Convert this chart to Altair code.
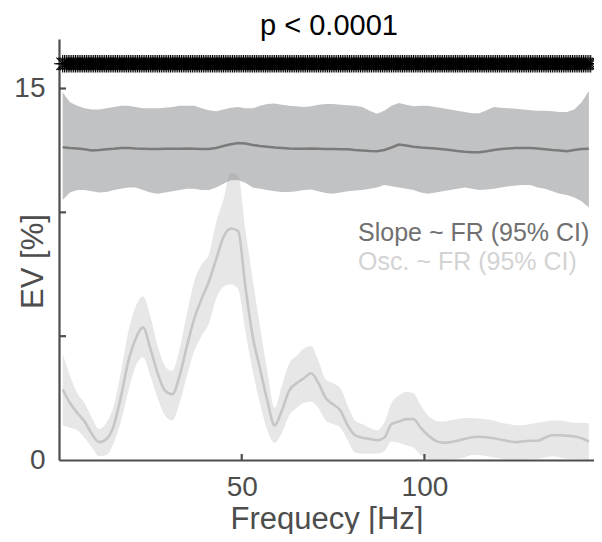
import altair as alt
import pandas as pd

# ---------------- data ----------------
freq = [1, 3, 5, 7, 9, 11, 13, 15, 17, 19, 21, 23, 25, 27, 29, 31, 33, 35, 37, 39,
        41, 43, 45, 47, 49, 51, 53, 55, 57, 59, 61, 63, 65, 67, 69, 71, 73, 75, 77, 79,
        81, 83, 85, 87, 89, 91, 93, 95, 97, 99, 101, 103, 105, 107, 109, 111, 113, 115, 117, 119,
        121, 123, 125, 127, 129, 131, 133, 135, 137, 139, 141, 143, 145]

slope_mean = [12.63, 12.60, 12.58, 12.55, 12.50, 12.52, 12.55, 12.57, 12.60, 12.60,
              12.58, 12.57, 12.56, 12.56, 12.57, 12.57, 12.57, 12.58, 12.57, 12.56,
              12.56, 12.60, 12.68, 12.75, 12.80, 12.78, 12.72, 12.68, 12.65, 12.62,
              12.60, 12.58, 12.57, 12.57, 12.58, 12.57, 12.56, 12.56, 12.55, 12.55,
              12.52, 12.50, 12.48, 12.47, 12.52, 12.62, 12.74, 12.70, 12.65, 12.62,
              12.60, 12.58, 12.55, 12.52, 12.48, 12.45, 12.43, 12.43, 12.47, 12.52,
              12.56, 12.58, 12.60, 12.60, 12.60, 12.58, 12.55, 12.52, 12.50, 12.47,
              12.52, 12.56, 12.57]
slope_lo = [10.50, 10.80, 10.90, 10.90, 10.85, 10.80, 10.82, 10.90, 10.95, 11.00,
            11.00, 10.90, 10.80, 10.75, 10.80, 10.85, 10.90, 10.95, 10.95, 10.90,
            10.90, 11.00, 11.15, 11.30, 11.30, 11.20, 11.00, 10.95, 10.90, 10.85,
            10.82, 10.82, 10.85, 10.90, 10.92, 10.85, 10.78, 10.75, 10.80, 10.85,
            10.88, 10.90, 10.95, 11.00, 11.10, 11.05, 11.00, 10.95, 10.90, 10.80,
            10.75, 10.80, 10.85, 10.90, 10.95, 11.00, 10.95, 10.90, 10.92, 10.95,
            11.00, 11.05, 11.08, 11.10, 11.10, 11.00, 10.95, 10.85, 10.75, 10.70,
            10.60, 10.45, 10.20]
slope_hi = [14.85, 14.45, 14.30, 14.20, 14.15, 14.15, 14.20, 14.25, 14.30, 14.30,
            14.25, 14.20, 14.20, 14.20, 14.22, 14.25, 14.30, 14.30, 14.30, 14.20,
            14.12, 14.08, 14.15, 14.22, 14.25, 14.20, 14.20, 14.30, 14.38, 14.40,
            14.35, 14.30, 14.28, 14.25, 14.28, 14.35, 14.38, 14.38, 14.35, 14.32,
            14.30, 14.25, 14.10, 13.98, 14.10, 14.30, 14.42, 14.35, 14.28, 14.30,
            14.30, 14.25, 14.20, 14.15, 14.10, 14.05, 14.00, 14.00, 14.12, 14.25,
            14.22, 14.20, 14.18, 14.15, 14.12, 14.10, 14.10, 14.08, 14.05, 14.05,
            14.15, 14.45, 14.90]

osc_mean = [2.85, 2.30, 1.90, 1.55, 1.05, 0.72, 0.85, 1.40, 2.60, 4.00,
            4.90, 5.35, 4.50, 3.50, 2.80, 2.65, 3.40, 4.60, 5.70, 6.50,
            7.20, 8.10, 9.00, 9.35, 9.25, 7.00, 5.00, 3.70, 2.40, 1.40,
            2.00, 2.80, 3.10, 3.30, 3.50, 3.10, 2.50, 2.25, 2.00, 1.40,
            1.00, 0.90, 0.85, 0.80, 0.90, 1.45, 1.55, 1.65, 1.65, 1.30,
            1.00, 0.78, 0.70, 0.72, 0.78, 0.85, 0.92, 0.94, 0.92, 0.88,
            0.82, 0.76, 0.72, 0.76, 0.78, 0.78, 0.90, 1.00, 1.00, 0.98,
            0.95, 0.88, 0.74]
osc_lo = [1.40, 1.30, 1.20, 0.90, 0.50, 0.15, 0.20, 0.70, 1.60, 2.80,
          3.80, 4.15, 3.40, 2.50, 1.80, 1.60, 2.30, 3.40, 4.40, 5.00,
          5.50, 6.50, 7.00, 7.10, 6.90, 5.20, 3.60, 2.30, 1.20, 0.70,
          1.10, 1.80, 2.10, 2.30, 2.35, 2.10, 1.60, 1.45, 1.30, 0.80,
          0.30, 0.25, 0.25, 0.25, 0.35, 0.75, 0.70, 0.60, 0.50, 0.20,
          0.05, 0.00, 0.00, 0.00, 0.05, 0.10, 0.20, 0.20, 0.15, 0.10,
          0.05, 0.00, 0.00, 0.00, 0.05, 0.05, 0.10, 0.15, 0.10, 0.05,
          0.05, 0.00, 0.00]
osc_hi = [4.30, 3.40, 2.70, 2.30, 1.70, 1.25, 1.50, 2.20, 3.60, 5.20,
          6.20, 6.60, 5.80, 4.60, 3.80, 3.60, 4.50, 5.90, 7.20, 7.90,
          8.30, 9.60, 10.50, 11.60, 11.50, 9.30, 7.30, 5.40, 3.60, 2.10,
          3.00, 3.90, 4.20, 4.50, 4.60, 4.00, 3.25, 3.10, 2.90, 2.20,
          1.60, 1.45, 1.30, 1.20, 1.50, 2.30, 2.60, 2.75, 2.70, 2.20,
          1.80, 1.60, 1.55, 1.60, 1.65, 1.70, 1.70, 1.68, 1.65, 1.60,
          1.50, 1.45, 1.40, 1.40, 1.45, 1.50, 1.55, 1.60, 1.60, 1.55,
          1.50, 1.50, 1.48]

# every frequency bin is significant (p < 0.0001)
sig_freq = [i / 2 for i in range(2, 292)]
sig_level = 16

y_ticks = [5, 10, 15]
x_ticks = [50, 100]
y_labels = [0, 15]
x_labels = [50, 100]
legend_labels = ["Slope ~ FR (95% CI)", "Osc. ~ FR (95% CI)"]
title_text = ["p < 0.0001"]

# ---------------- chart ----------------
FONT = "Liberation Sans"
AX = "#4d4d4d"
W, H = 535, 421

df = pd.DataFrame({
    "f": freq,
    "slope_mean": slope_mean, "slope_lo": slope_lo, "slope_hi": slope_hi,
    "osc_mean": osc_mean, "osc_lo": osc_lo, "osc_hi": osc_hi,
})
df_sig = pd.DataFrame({"f": sig_freq, "level": [sig_level] * len(sig_freq)})

xs = alt.Scale(domain=[0, 146.4], nice=False, zero=False)
ys = alt.Scale(domain=[0, 17], nice=False, zero=False)

x_axis = alt.Axis(values=x_labels, title="Frequecy [Hz]", grid=False, ticks=False, tickSize=0,
                  labelBaseline="alphabetic", labelPadding=35, labelFontSize=28,
                  titleFontSize=31, titleFontWeight="normal", titleY=68,
                  titleBaseline="alphabetic", domainColor=AX, domainWidth=2.2,
                  labelColor=AX, titleColor=AX, labelFont=FONT, titleFont=FONT)
y_axis = alt.Axis(values=y_labels, title="EV [%]", grid=False, ticks=False, tickSize=0,
                  labelPadding=14, labelFontSize=28, titleFontSize=31,
                  titleFontWeight="normal", titleX=-17, titleY=222,
                  titleBaseline="alphabetic", domainColor=AX, domainWidth=2.2,
                  labelColor=AX, titleColor=AX, labelFont=FONT, titleFont=FONT)


def X(field):
    return alt.X(field, scale=xs, axis=x_axis)


def Y(field):
    return alt.Y(field, scale=ys, axis=y_axis)


base = alt.Chart(df)

slope_band = base.mark_area(color="#c1c2c4", opacity=1).encode(
    x=X("f:Q"), y=Y("slope_lo:Q"), y2="slope_hi:Q",
)
osc_band = base.mark_area(color="#868686", opacity=0.2, interpolate="monotone").encode(
    x=X("f:Q"), y=Y("osc_lo:Q"), y2="osc_hi:Q",
)
slope_line = base.mark_line(color="#7b7b7b", strokeWidth=2.6).encode(
    x=X("f:Q"), y=Y("slope_mean:Q"),
)
osc_line = base.mark_line(color="#c6c6c6", strokeWidth=2.6, interpolate="monotone").encode(
    x=X("f:Q"), y=Y("osc_mean:Q"),
)

ASTERISK = "M-1,0L1,0M0,-1L0,1M-0.72,-0.72L0.72,0.72M-0.72,0.72L0.72,-0.72"
stars = alt.Chart(df_sig).mark_point(shape=ASTERISK, filled=False, color="black",
                                      size=300, strokeWidth=1.1, opacity=1).encode(
    x=X("f:Q"), y=Y("level:Q"),
)

ytick_rules = alt.Chart(pd.DataFrame({"v": y_ticks})).mark_rule(color=AX, strokeWidth=2.2).encode(
    y=Y("v:Q"), x=alt.value(0), x2=alt.value(7),
)
xtick_rules = alt.Chart(pd.DataFrame({"v": x_ticks})).mark_rule(color=AX, strokeWidth=2.2).encode(
    x=X("v:Q"), y=alt.value(H), y2=alt.value(H - 6),
)

leg1 = alt.Chart(pd.DataFrame({"label": [legend_labels[0]]})).mark_text(
    align="left", baseline="alphabetic", fontSize=25, font=FONT, color="#707070"
).encode(x=alt.value(299), y=alt.value(202), text="label:N")
leg2 = alt.Chart(pd.DataFrame({"label": [legend_labels[1]]})).mark_text(
    align="left", baseline="alphabetic", fontSize=25, font=FONT, color="#d3d3d3"
).encode(x=alt.value(299), y=alt.value(231), text="label:N")

title = alt.Chart(pd.DataFrame({"t": title_text})).mark_text(
    align="center", baseline="alphabetic", fontSize=29, font=FONT, color="black"
).encode(x=alt.value(270), y=alt.value(-4), text="t:N")

chart = alt.layer(
    slope_band, osc_band, slope_line, osc_line, stars,
    ytick_rules, xtick_rules, leg1, leg2, title,
).properties(
    width=W, height=H,
    autosize=alt.AutoSizeParams(type="none"),
    padding={"left": 51, "top": 31, "right": 0, "bottom": 74},
    background="white",
).configure_view(stroke=None)

chart.save("out.html", embed_options={"renderer": "svg", "actions": False})
